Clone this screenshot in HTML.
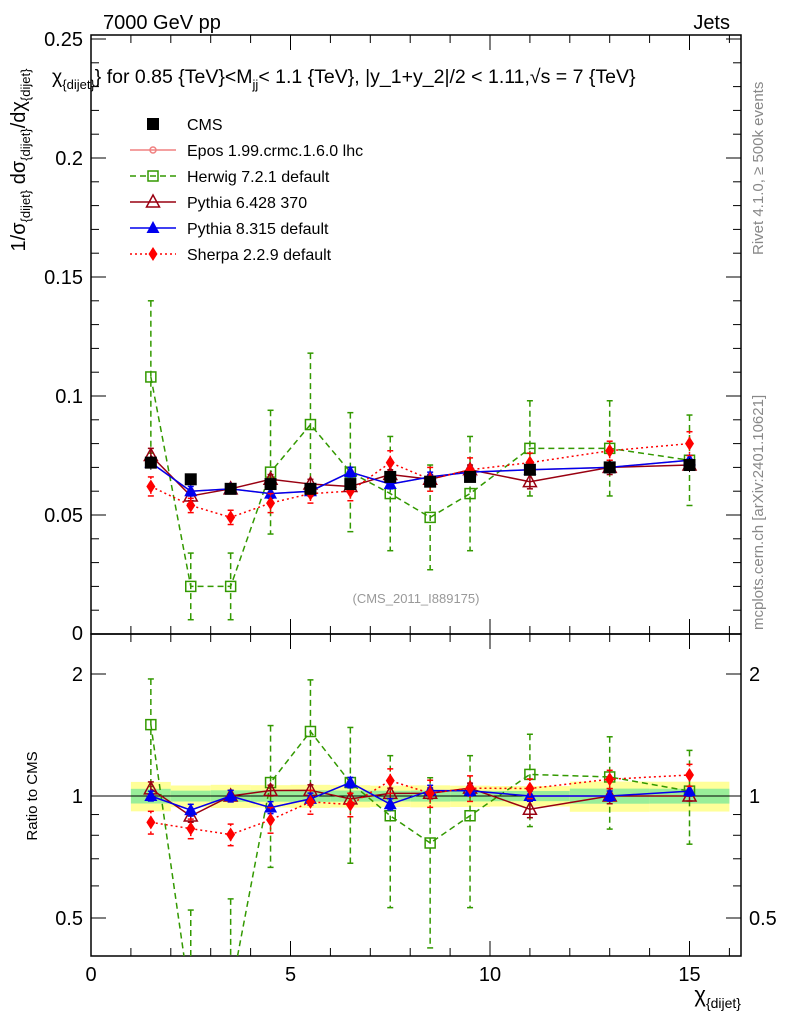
<!DOCTYPE html>
<html><head><meta charset="utf-8"><style>
html,body{margin:0;padding:0;background:#fff;width:786px;height:1024px;overflow:hidden}
svg{display:block}
svg text{font-family:"Liberation Sans",sans-serif}
</style></head><body>
<svg id="chart" width="786" height="1024" xmlns="http://www.w3.org/2000/svg">
<g id="topPanel"></g>
<g id="botPanel"></g>
<text x="103" y="29" font-size="20">7000 GeV pp</text>
<text x="730" y="29" font-size="20" text-anchor="end">Jets</text>
<text x="52" y="83" font-size="19.5">χ<tspan font-size="13" dy="6">{dijet}</tspan><tspan dy="-6">} for 0.85 {TeV}&lt;M</tspan><tspan font-size="13" dy="6">jj</tspan><tspan dy="-6">&lt; 1.1 {TeV}, |y_1+y_2|/2 &lt; 1.11,√s = 7 {TeV}</tspan></text>
<text transform="translate(25,160) rotate(-90)" font-size="20" text-anchor="middle">1/σ<tspan font-size="13" dy="5">{dijet}</tspan><tspan dy="-5"> dσ</tspan><tspan font-size="13" dy="5">{dijet}</tspan><tspan dy="-5">/dχ</tspan><tspan font-size="13" dy="5">{dijet}</tspan></text>
<text transform="translate(37,796) rotate(-90)" font-size="15" text-anchor="middle">Ratio to CMS</text>
<text x="741" y="1002" font-size="22" text-anchor="end">χ<tspan font-size="14" dy="6">{dijet}</tspan></text>
<text transform="translate(763,255) rotate(-90)" font-size="15" fill="#888">Rivet 4.1.0, ≥ 500k events</text>
<text transform="translate(763,630) rotate(-90)" font-size="15" fill="#888">mcplots.cern.ch [arXiv:2401.10621]</text>
<text x="416" y="603" font-size="13" fill="#999" text-anchor="middle">(CMS_2011_I889175)</text>
<g id="legend"></g>
</svg>
<script>
const xs=[1.5,2.5,3.5,4.5,5.5,6.5,7.5,8.5,9.5,11,13,15];
const xlo=[1,2,3,4,5,6,7,8,9,10,12,14];
const xhi=[2,3,4,5,6,7,8,9,10,12,14,16];
const cms=[0.072,0.065,0.061,0.063,0.061,0.063,0.066,0.064,0.066,0.069,0.070,0.071];
const cmsErr=[0.003,0.002,0.002,0.002,0.002,0.002,0.002,0.002,0.002,0.002,0.003,0.003];
const epos=[0.072,0.060,0.061,0.059,0.060,0.068,0.063,0.066,0.068,0.069,0.070,0.073];
const herwig=[0.108,0.020,0.020,0.068,0.088,0.068,0.059,0.049,0.059,0.078,0.078,0.073];
const herwigErr=[0.032,0.014,0.014,0.026,0.030,0.025,0.024,0.022,0.024,0.020,0.020,0.019];
const pythia6=[0.075,0.058,0.061,0.065,0.063,0.062,0.067,0.065,0.069,0.064,0.070,0.071];
const pythia6Err=[0.003,0.002,0.002,0.002,0.002,0.002,0.002,0.002,0.002,0.003,0.003,0.002];
const pythia8=[0.072,0.060,0.061,0.059,0.060,0.068,0.063,0.066,0.068,0.069,0.070,0.073];
const pythia8Err=[0.002,0.002,0.002,0.002,0.002,0.002,0.002,0.002,0.002,0.002,0.002,0.002];
const sherpa=[0.062,0.054,0.049,0.055,0.059,0.060,0.072,0.065,0.069,0.072,0.077,0.080];
const sherpaErr=[0.004,0.003,0.003,0.004,0.004,0.004,0.005,0.005,0.005,0.004,0.004,0.005];
const yTicks=[0.05,0.1,0.15,0.2,0.25];
const yTickLabels=["0.05","0.1","0.15","0.2","0.25"];
const rTicks=[0.5,1,2];
const rTickLabels=["0.5","1","2"];
const xTicks=[0,5,10,15];
const xTickLabels=["0","5","10","15"];

const NS="http://www.w3.org/2000/svg";
const L=91,R=741,T=35,M=634,B=956;
const X=v=>L+v*39.9;
const Y=v=>M-v*2380;
const RY=v=>796-Math.log2(v)*122;
function mk(p,tag,a){const e=document.createElementNS(NS,tag);for(const k in a)e.setAttribute(k,a[k]);p.appendChild(e);return e;}
const topG=document.getElementById('topPanel'),botG=document.getElementById('botPanel');
const cp=mk(document.getElementById('chart'),'defs',{});
const c1=mk(cp,'clipPath',{id:'c1'});mk(c1,'rect',{x:L,y:T,width:R-L,height:M-T});
const c2=mk(cp,'clipPath',{id:'c2'});mk(c2,'rect',{x:L,y:M,width:R-L,height:B-M});

const bandG=mk(botG,'g',{'clip-path':'url(#c2)'});
for(let i=0;i<xs.length;i++){
 const r=cmsErr[i]/cms[i];
 let b=mk(bandG,'rect',{x:X(xlo[i]),width:X(xhi[i])-X(xlo[i]),y:RY(1+2*r),height:RY(1-2*r)-RY(1+2*r),fill:'#ffff99'});
 
 
 b=mk(bandG,'rect',{x:X(xlo[i]),width:X(xhi[i])-X(xlo[i]),y:RY(1+r),height:RY(1-r)-RY(1+r),fill:'#99ee99'});
 
 
}
mk(botG,'line',{x1:L,x2:R,y1:RY(1),y2:RY(1),stroke:'#000','stroke-width':1});

mk(topG,'rect',{x:L,y:T,width:R-L,height:M-T,fill:'none',stroke:'#000','stroke-width':1.5});
mk(botG,'rect',{x:L,y:M,width:R-L,height:B-M,fill:'none',stroke:'#000','stroke-width':1.5});
for(let k=0;k<=25;k++){const v=k/100;const y=Y(v);const l=k%5==0?15:8;
 mk(topG,'line',{x1:L,x2:L+l,y1:y,y2:y,stroke:'#000'});mk(topG,'line',{x1:R,x2:R-l,y1:y,y2:y,stroke:'#000'});}
yTicks.forEach((v,i)=>{const t=mk(topG,'text',{x:L-8,y:Y(v)+7,'font-size':20,'text-anchor':'end'});t.textContent=yTickLabels[i];
 
 });
const t0=mk(topG,'text',{x:L-8,y:M+6,'font-size':20,'text-anchor':'end'});t0.textContent='0';
[0.5,0.6,0.7,0.8,0.9,1,2].forEach(v=>{const y=RY(v);const l=(v==0.5||v==1||v==2)?15:8;
 mk(botG,'line',{x1:L,x2:L+l,y1:y,y2:y,stroke:'#000'});mk(botG,'line',{x1:R,x2:R-l,y1:y,y2:y,stroke:'#000'});});
rTicks.forEach((v,i)=>{let t=mk(botG,'text',{x:L-8,y:RY(v)+7,'font-size':20,'text-anchor':'end'});t.textContent=rTickLabels[i];
 
 
 t=mk(botG,'text',{x:R+8,y:RY(v)+7,'font-size':20});t.textContent=rTickLabels[i];
 
 });
for(let v=0;v<=16;v++){const x=X(v);const l=v%5==0?15:8;
 mk(topG,'line',{x1:x,x2:x,y1:M,y2:M-l,stroke:'#000'});mk(topG,'line',{x1:x,x2:x,y1:T,y2:T+l,stroke:'#000'});
 mk(botG,'line',{x1:x,x2:x,y1:B,y2:B-l,stroke:'#000'});mk(botG,'line',{x1:x,x2:x,y1:M,y2:M+l,stroke:'#000'});}
xTicks.forEach((v,i)=>{const t=mk(botG,'text',{x:X(v),y:B+25,'font-size':20,'text-anchor':'middle'});t.textContent=xTickLabels[i];
 
 });

function marker(g,type,x,y,col){
 const s=6;let e;
 if(type=='sq')e=mk(g,'rect',{x:x-s,y:y-s,width:2*s,height:2*s,fill:'#000'});
 else if(type=='osq')e=mk(g,'rect',{x:x-s+1,y:y-s+1,width:2*s-2,height:2*s-2,fill:'none',stroke:col,'stroke-width':1.5});
 else if(type=='otri')e=mk(g,'polygon',{points:`${x},${y-7} ${x-6.5},${y+5} ${x+6.5},${y+5}`,fill:'none',stroke:col,'stroke-width':1.5});
 else if(type=='tri')e=mk(g,'polygon',{points:`${x},${y-7} ${x-6.5},${y+5} ${x+6.5},${y+5}`,fill:col});
 else if(type=='dia')e=mk(g,'polygon',{points:`${x},${y-7} ${x-4.5},${y} ${x},${y+7} ${x+4.5},${y}`,fill:col});
 else e=mk(g,'circle',{cx:x,cy:y,r:3,fill:'none',stroke:col,'stroke-width':1.5});
 return e;
}
const series=[
 {name:'epos',vals:epos,err:null,col:'#f08080',dash:'',mk:'cross',label:'Epos 1.99.crmc.1.6.0 lhc'},
 {name:'herwig',vals:herwig,err:herwigErr,col:'#339900',dash:'6,4',mk:'osq',label:'Herwig 7.2.1 default'},
 {name:'pythia6',vals:pythia6,err:pythia6Err,col:'#990011',dash:'',mk:'otri',label:'Pythia 6.428 370'},
 {name:'pythia8',vals:pythia8,err:pythia8Err,col:'#0000ee',dash:'',mk:'tri',label:'Pythia 8.315 default'},
 {name:'sherpa',vals:sherpa,err:sherpaErr,col:'#ff0000',dash:'2,3',mk:'dia',label:'Sherpa 2.2.9 default'}];
function draw(panel,clip,yf,ratio){
 const g=mk(panel,'g',{'clip-path':clip});
 series.forEach(s=>{
  const sg=mk(g,'g',{});
  
  
  const v=i=>ratio?s.vals[i]/cms[i]:s.vals[i];
  const pts=xs.map((x,i)=>X(x)+','+yf(v(i))).join(' ');
  mk(sg,'polyline',{points:pts,fill:'none',stroke:s.col,'stroke-width':1.5,'stroke-dasharray':s.dash});
  xs.forEach((x,i)=>{
   if(s.err){const e=ratio?s.err[i]/cms[i]:s.err[i];const a=yf(v(i)+e),b=yf(Math.max(v(i)-e,1e-4));
    mk(sg,'line',{x1:X(x),x2:X(x),y1:a,y2:b,stroke:s.col,'stroke-width':1.5,'stroke-dasharray':s.dash});
    mk(sg,'line',{x1:X(x)-3,x2:X(x)+3,y1:a,y2:a,stroke:s.col,'stroke-width':1.5});
    mk(sg,'line',{x1:X(x)-3,x2:X(x)+3,y1:b,y2:b,stroke:s.col,'stroke-width':1.5});}
   const m=marker(sg,s.mk,X(x),yf(v(i)),s.col);
   
   
  });
 });
 if(!ratio){const cg=mk(g,'g',{});
  
  
  xs.forEach((x,i)=>{mk(cg,'line',{x1:X(x),x2:X(x),y1:Y(cms[i]+cmsErr[i]),y2:Y(cms[i]-cmsErr[i]),stroke:'#000'});
   const m=marker(cg,'sq',X(x),Y(cms[i]),'#000');
   
   });}
}
draw(topG,'url(#c1)',Y,false);
draw(botG,'url(#c2)',RY,true);
const lg=document.getElementById('legend');
const items=[{mk:'sq',col:'#000',dash:'',label:'CMS',line:false}].concat(series.map(s=>({mk:s.mk,col:s.col,dash:s.dash,label:s.label,line:true})));
items.forEach((it,i)=>{const y=124+i*26;const g=mk(lg,'g',{});
 
 
 if(it.line)mk(g,'line',{x1:130,x2:176,y1:y,y2:y,stroke:it.col,'stroke-width':1.5,'stroke-dasharray':it.dash});
 marker(g,it.mk,153,y,it.col);
 const t=mk(g,'text',{x:187,y:y+6,'font-size':16});t.textContent=it.label;});
</script>
</body></html>
